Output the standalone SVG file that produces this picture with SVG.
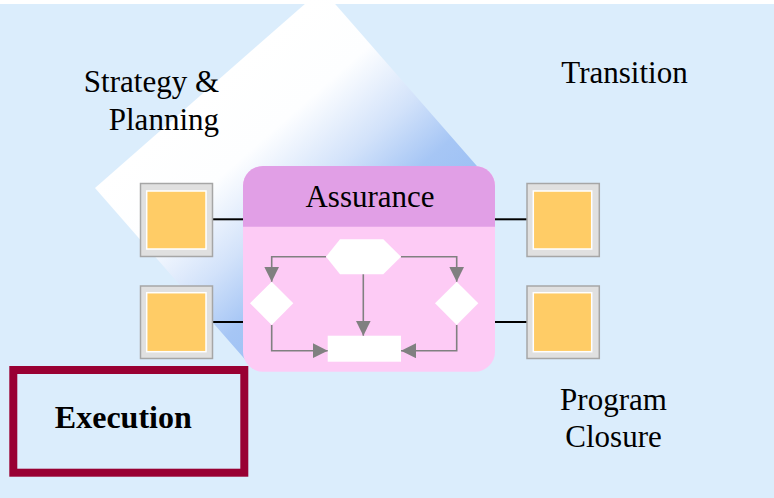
<svg xmlns="http://www.w3.org/2000/svg" width="774" height="498" viewBox="0 0 774 498">
  <defs>
    <linearGradient id="diamondGrad" gradientUnits="userSpaceOnUse" x1="208" y1="88" x2="372" y2="275">
      <stop offset="0" stop-color="#FFFFFF"/>
      <stop offset="0.3" stop-color="#FDFEFF"/>
      <stop offset="0.58" stop-color="#D2E2FA"/>
      <stop offset="0.8" stop-color="#A6C6F5"/>
      <stop offset="1" stop-color="#9CC0F4"/>
    </linearGradient>
    <marker id="arrow" viewBox="0 0 15 15" refX="15" refY="7.5" markerWidth="15" markerHeight="15" markerUnits="userSpaceOnUse" orient="auto">
      <path d="M0,0 L15,7.5 L0,15 Z" fill="#808080"/>
    </marker>
  </defs>
  <style>
    text { font-family: 'Liberation Serif', 'DejaVu Serif', 'Times New Roman', serif; }
    .label { font-size: 31px; fill: #000000; }
    .bold { font-weight: bold; font-size: 32px; }
    .frame { fill: #E0E0E0; stroke: #A6A6A6; stroke-width: 1.5; }
    .core { fill: #FFCC66; stroke: #FFFFFF; stroke-width: 1.5; }
    .flow { fill: none; stroke: #808080; stroke-width: 1.6; }
    .link { fill: none; stroke: #000000; stroke-width: 2; }
    .shape { fill: #FFFFFF; }
  </style>

  <!-- background -->
  <rect x="0" y="0" width="774" height="498" fill="#DBEDFC"/>
  <rect x="0" y="0" width="774" height="4" fill="#FFFFFF"/>

  <!-- gradient diamond -->
  <polygon id="diamond" points="322,-11 95,188 253,368.5 480,169.5" fill="url(#diamondGrad)"/>

  <!-- labels -->
  <g font-family="Liberation Serif, DejaVu Serif, serif">
    <text class="label" x="219" y="91.7" text-anchor="end">Strategy &amp;</text>
    <text class="label" x="219" y="130" text-anchor="end">Planning</text>
    <text class="label" x="624.5" y="83.3" text-anchor="middle">Transition</text>
    <text class="label" x="613.5" y="410" text-anchor="middle">Program</text>
    <text class="label" x="613.5" y="446.7" text-anchor="middle">Closure</text>
  </g>

  <!-- connectors -->
  <g id="connectors">
    <line class="link" x1="212.7" y1="219.3" x2="243" y2="219.3"/>
    <line class="link" x1="212.7" y1="322" x2="243" y2="322"/>
    <line class="link" x1="495" y1="219.3" x2="527" y2="219.3"/>
    <line class="link" x1="495" y1="322" x2="527" y2="322"/>
  </g>

  <!-- left squares -->
  <g id="square-left-top">
    <rect class="frame" x="140.5" y="183.5" width="72" height="73"/>
    <rect class="core" x="146.7" y="191" width="59.3" height="58"/>
  </g>
  <g id="square-left-bottom">
    <rect class="frame" x="140.5" y="286" width="72" height="72.5"/>
    <rect class="core" x="146.7" y="292.7" width="59.3" height="59"/>
  </g>
  <!-- right squares -->
  <g id="square-right-top">
    <rect class="frame" x="527" y="183.5" width="72.3" height="73"/>
    <rect class="core" x="533.3" y="191" width="58.4" height="58"/>
  </g>
  <g id="square-right-bottom">
    <rect class="frame" x="527" y="286" width="72.3" height="72.5"/>
    <rect class="core" x="533.3" y="292.7" width="58.4" height="59"/>
  </g>

  <!-- Assurance box -->
  <g id="assurance">
    <rect x="243" y="166" width="252" height="205.7" rx="20" ry="20" fill="#FDCBF5"/>
    <path d="M243,226.7 V186 A20,20 0 0 1 263,166 H475 A20,20 0 0 1 495,186 V226.7 Z" fill="#E19FE6"/>
    <text class="label" x="370" y="206.7" text-anchor="middle">Assurance</text>
  </g>

  <!-- inner flow shapes -->
  <g id="flow-hexagon">
    <polygon class="shape" points="326,256.7 340,239.3 383.3,239.3 401,256.7 383.3,274.3 340,274.3"/>
  </g>
  <g id="flow-diamond-left">
    <polygon class="shape" points="271.7,281.7 293.3,303.3 271.7,325 250,303.3"/>
  </g>
  <g id="flow-diamond-right">
    <polygon class="shape" points="456.7,281.7 478.3,303.3 456.7,325 435,303.3"/>
  </g>
  <g id="flow-rect">
    <rect class="shape" x="327.7" y="335.7" width="73.3" height="26"/>
  </g>

  <g id="flow-connectors">
    <path class="flow" d="M326,256.7 H271.7 V281.7" marker-end="url(#arrow)"/>
    <path class="flow" d="M401,256.7 H456.7 V281.7" marker-end="url(#arrow)"/>
    <path class="flow" d="M363.3,274.3 V335.7" marker-end="url(#arrow)"/>
    <path class="flow" d="M271.7,325 V350.7 H327.7" marker-end="url(#arrow)"/>
    <path class="flow" d="M456.7,325 V350.7 H401" marker-end="url(#arrow)"/>
  </g>

  <!-- Execution box -->
  <g id="execution">
    <rect x="13.3" y="370" width="231" height="102.7" fill="#DBEDFC" stroke="#990033" stroke-width="8"/>
    <text class="label bold" x="123.3" y="428.3" text-anchor="middle">Execution</text>
  </g>
</svg>
